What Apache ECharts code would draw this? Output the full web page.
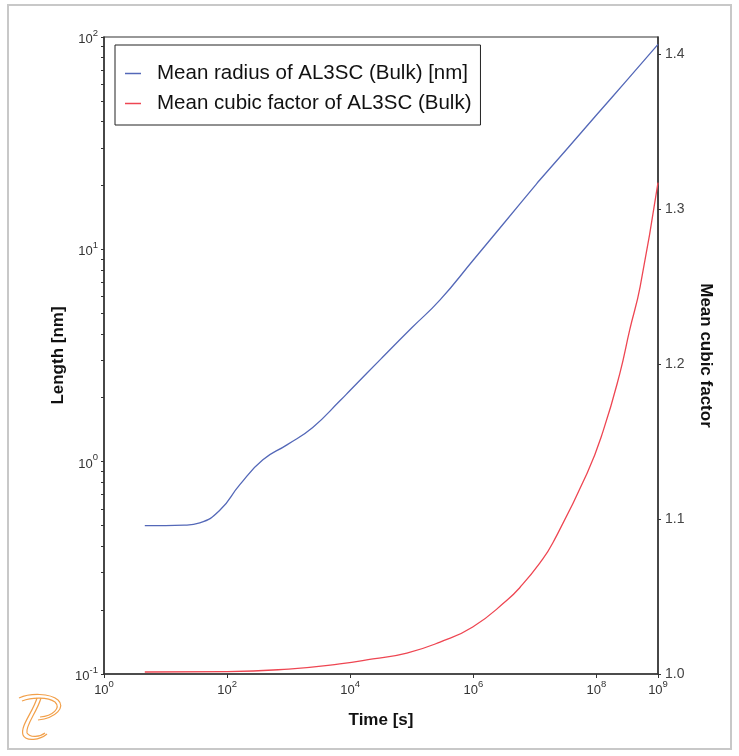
<!DOCTYPE html>
<html><head><meta charset="utf-8">
<script src="https://cdn.jsdelivr.net/npm/echarts@6/dist/echarts.min.js"></script>
<style>html,body{margin:0;padding:0;background:#fff}#c{width:739px;height:756px}</style>
</head><body><div id="c"></div>
<script>
const seriesNames = ['Mean radius of AL3SC (Bulk) [nm]', 'Mean cubic factor of AL3SC (Bulk)'];
const radiusTime  = [4.6, 10, 20, 36, 76, 161, 381, 937, 2460, 7000, 1e4, 3.16e4, 1e5, 2.88e5, 1e6, 3.16e6, 1e7, 1.2e7, 3.16e7, 1e8, 3.16e8, 1e9];
const radiusValue = [0.50, 0.50, 0.502, 0.515, 0.59, 0.78, 1.02, 1.20, 1.45, 1.95, 2.17, 3.05, 4.27, 5.78, 8.91, 13.3, 19.9, 21.2, 29.2, 42.9, 62.8, 92.3];
const cubicTime  = [4.6, 100, 1000, 6760, 23400, 83200, 2.88e5, 9.77e5, 3.55e6, 5.75e6, 1.2e7, 1.95e7, 7.08e7, 1.29e8, 2.4e8, 3.47e8, 5.13e8, 1e9];
const cubicValue = [1.0013, 1.0015, 1.0032, 1.0065, 1.0097, 1.0135, 1.0206, 1.0303, 1.0477, 1.056, 1.0716, 1.0845, 1.1297, 1.157, 1.194, 1.222, 1.250, 1.317];
const timeTicks = [1, 1e2, 1e4, 1e6, 1e8, 1e9];
const lengthTicks = [0.1, 1, 10, 100];
const lengthMinorTicks = [0.2,0.3,0.4,0.5,0.6,0.7,0.8,0.9,2,3,4,5,6,7,8,9,20,30,40,50,60,70,80,90];
const cubicTicks = [1.0, 1.1, 1.2, 1.3, 1.4];

const FONT = 'Liberation Sans, Arial, sans-serif';
function sup(v) {
  const e = Math.round(Math.log10(v));
  return '{b|10}{s|' + e + '}';
}
const supRich = {
  b: {fontSize: 13, color: '#333', fontFamily: FONT, padding: [5, 0, 0, 0]},
  s: {fontSize: 9.5, color: '#333', fontFamily: FONT, verticalAlign: 'top'}
};
const nameStyle = {fontSize: 17, fontWeight: 'bold', color: '#111', fontFamily: FONT};
const axisLineStyle = {color: '#333', width: 1.5};
const LOGO = '#f2a04a';
function bz(x1, y1, cx1, cy1, cx2, cy2, x2, y2) {
  return {type: 'bezierCurve', silent: true,
    shape: {x1: x1, y1: y1, cpx1: cx1, cpy1: cy1, cpx2: cx2, cpy2: cy2, x2: x2, y2: y2},
    style: {fill: 'none', stroke: LOGO, lineWidth: 1.2}};
}

const chart = echarts.init(document.getElementById('c'), null, {renderer: 'canvas'});
chart.setOption({
  animation: false,
  backgroundColor: '#fff',
  grid: {left: 104, right: 81, top: 37, bottom: 82, show: true, borderColor: '#333', borderWidth: 1.2},
  legend: {
    orient: 'vertical', left: 115, top: 45,
    backgroundColor: '#fff', borderColor: '#222', borderWidth: 1,
    padding: [18, 9, 11, 10], itemGap: 9, itemWidth: 16, itemHeight: 1.5, icon: 'rect',
    textStyle: {fontSize: 20.5, color: '#111', fontFamily: FONT, padding: [0, 0, 0, 11]},
    data: seriesNames
  },
  xAxis: {
    type: 'log', logBase: 10, min: 1, max: 1e9,
    name: 'Time [s]', nameLocation: 'middle', nameGap: 38, nameMoveOverlap: false, nameTextStyle: nameStyle,
    axisLine: {lineStyle: axisLineStyle},
    axisTick: {customValues: timeTicks, length: 4, lineStyle: {color: '#333'}},
    axisLabel: {customValues: timeTicks, formatter: sup, rich: supRich, margin: 5},
    splitLine: {show: false}, minorTick: {show: false}
  },
  yAxis: [{
    type: 'log', logBase: 10, min: 0.1, max: 100, position: 'left',
    name: 'Length [nm]', nameLocation: 'middle', nameGap: 37, nameMoveOverlap: false, nameRotate: 90, nameTextStyle: nameStyle,
    axisLine: {show: true, lineStyle: axisLineStyle},
    axisTick: {customValues: lengthTicks.concat(lengthMinorTicks), length: 3, lineStyle: {color: '#333'}},
    axisLabel: {customValues: lengthTicks, formatter: sup, rich: supRich, margin: 6},
    splitLine: {show: false}
  }, {
    type: 'value', min: 1.0, max: 1.411, position: 'right',
    name: 'Mean cubic factor', nameLocation: 'middle', nameGap: 39, nameMoveOverlap: false, nameRotate: -90, nameTextStyle: nameStyle,
    axisLine: {show: true, lineStyle: axisLineStyle},
    axisTick: {customValues: cubicTicks, length: 3, lineStyle: {color: '#333'}},
    axisLabel: {customValues: cubicTicks, formatter: v => v.toFixed(1), fontSize: 14, color: '#444', fontFamily: FONT, margin: 7},
    splitLine: {show: false}
  }],
  series: [{
    name: seriesNames[0], type: 'line', yAxisIndex: 0, symbol: 'none', smooth: 0.5,
    color: '#5468b8', lineStyle: {width: 1.3, color: '#5468b8'},
    data: radiusTime.map((t, i) => [t, radiusValue[i]])
  }, {
    name: seriesNames[1], type: 'line', yAxisIndex: 1, symbol: 'none', smooth: 0.5,
    color: '#ee4652', lineStyle: {width: 1.3, color: '#ee4652'},
    data: cubicTime.map((t, i) => [t, cubicValue[i]])
  }],
  graphic: [
    {type: 'rect', silent: true, shape: {x: 8, y: 5, width: 723, height: 744}, style: {fill: 'none', stroke: '#c8c8c8', lineWidth: 2}},
    bz(19, 698, 30, 693, 50, 693, 58, 700),
    bz(58, 700, 66, 707, 56, 718, 38, 720),
    bz(22, 701, 32, 697, 48, 697, 55, 702),
    bz(55, 702, 61, 708, 53, 716, 40, 717),
    bz(37, 698, 33, 712, 20, 726, 23, 735),
    bz(23, 735, 26, 742, 40, 740, 47, 734),
    bz(41, 698, 37, 712, 25, 726, 27, 733),
    bz(27, 733, 30, 738, 40, 737, 45, 733)
  ]
});
</script></body></html>
